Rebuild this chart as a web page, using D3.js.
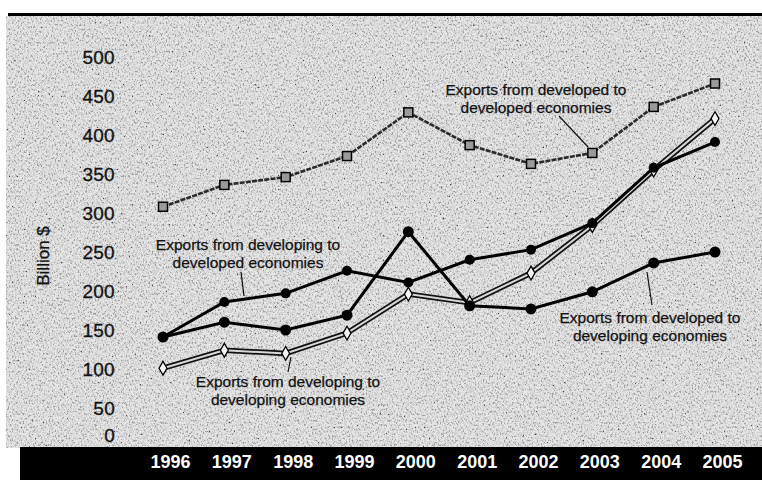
<!DOCTYPE html>
<html>
<head>
<meta charset="utf-8">
<script src="https://cdn.jsdelivr.net/npm/d3@7"></script>
<style>
  html, body { margin: 0; padding: 0; background: #fff; }
  svg { display: block; }
  text { font-family: "Liberation Sans", Arial, Helvetica, sans-serif; }
</style>
</head>
<body>
<svg id="chart" width="762" height="480"></svg>
<script>
// ---- data ----
const years = ["1996","1997","1998","1999","2000","2001","2002","2003","2004","2005"];
const yTicks = [0, 50, 100, 150, 200, 250, 300, 350, 400, 450, 500];
const devToDev      = [308, 336, 346, 373, 429, 387, 363, 377, 436, 466];
const devingToDev   = [141, 186, 197, 226, 211, 240, 253, 287, 358, 391];
const devToDeving   = [141, 160, 150, 169, 276, 181, 177, 199, 236, 250];
const devingToDeving= [101, 124, 120, 146, 196, 185, 223, 284, 355, 421];
const labelDevDev     = ["Exports from developed to", "developed economies"];
const labelDevingDev  = ["Exports from developing to", "developed economies"];
const labelDevDeving  = ["Exports from developed to", "developing economies"];
const labelDevingDeving = ["Exports from developing to", "developing economies"];
const yTitle = "Billion $";

const svg = d3.select("#chart");
const W = 762, H = 480;

// ---- background texture ----
const defs = svg.append("defs");
const f = defs.append("filter").attr("id", "speckle").attr("x", 0).attr("y", 0).attr("width", "100%").attr("height", "100%");
f.append("feTurbulence").attr("type", "fractalNoise").attr("baseFrequency", "0.65 0.45").attr("numOctaves", 3).attr("seed", 7).attr("result", "t");
f.append("feColorMatrix").attr("in", "t").attr("type", "matrix")
  .attr("values", "1 0 0 0 0  1 0 0 0 0  1 0 0 0 0  0 0 0 0 1").attr("result", "g");
const ct = f.append("feComponentTransfer").attr("in", "g");
["R","G","B"].forEach(c => ct.append("feFunc" + c).attr("type", "discrete").attr("tableValues", "0 0.3 0.7 1 1 1"));

svg.append("rect").attr("x", 6).attr("y", 16).attr("width", W - 6).attr("height", 432).attr("fill", "#bcbcbc");
svg.append("rect").attr("x", 6).attr("y", 16).attr("width", W - 6).attr("height", 432)
  .attr("filter", "url(#speckle)").attr("opacity", 0.6);

// top rule
svg.append("rect").attr("x", 8).attr("y", 13).attr("width", W - 8).attr("height", 3).attr("fill", "#000");
// bottom black band
svg.append("rect").attr("x", 20).attr("y", 447).attr("width", W - 20).attr("height", H - 447).attr("fill", "#000");

// ---- scales ----
const x = d3.scalePoint().domain(years).range([163, 715]);
const y = d3.scaleLinear().domain([0, 500]).range([447, 57]);

// ---- axes ----
const yAxis = d3.axisLeft(y).tickValues(yTicks).tickSize(0).tickPadding(0);
const gy = svg.append("g").attr("transform", "translate(115,0)").call(yAxis);
gy.select(".domain").remove();
gy.selectAll("text")
  .attr("fill", "#111").attr("font-size", 19).attr("letter-spacing", "0.3px")
  .attr("stroke", "#111").attr("stroke-width", 0.3)
  .attr("dy", d => d === 0 ? "-0.3em" : "0.36em");

const xAxis = d3.axisBottom(x).tickSize(0).tickPadding(0);
const gx = svg.append("g").attr("transform", "translate(7,451)").call(xAxis);
gx.select(".domain").remove();
gx.selectAll("text").attr("fill", "#fff").attr("font-size", 18).attr("font-weight", "bold").attr("dy", "0.95em");

svg.append("text")
  .attr("transform", "translate(49,256) rotate(-90)")
  .attr("text-anchor", "middle").attr("font-size", 17).attr("fill", "#111")
  .attr("stroke", "#111").attr("stroke-width", 0.3)
  .text(yTitle);

// ---- lines ----
const line = d3.line().x((d, i) => x(years[i])).y(d => y(d));

// developed -> developed (squares)
svg.append("path").datum(devToDev).attr("d", line).attr("fill", "none")
  .attr("stroke", "#2a2a2a").attr("stroke-width", 2.6).attr("stroke-dasharray", "5 1.2");

// developing -> developing (double line, open diamonds)
svg.append("path").datum(devingToDeving).attr("d", line).attr("fill", "none")
  .attr("stroke", "#111").attr("stroke-width", 5.5);
svg.append("path").datum(devingToDeving).attr("d", line).attr("fill", "none")
  .attr("stroke", "#d8d8d8").attr("stroke-width", 2);

// developed -> developing
svg.append("path").datum(devToDeving).attr("d", line).attr("fill", "none")
  .attr("stroke", "#000").attr("stroke-width", 3);
// developing -> developed
svg.append("path").datum(devingToDev).attr("d", line).attr("fill", "none")
  .attr("stroke", "#000").attr("stroke-width", 3);

// markers
svg.append("g").selectAll("rect").data(devToDev).join("rect")
  .attr("x", (d, i) => x(years[i]) - 4.5).attr("y", d => y(d) - 4.5)
  .attr("width", 9).attr("height", 9)
  .attr("fill", "#9a9a9a").attr("stroke", "#000").attr("stroke-width", 1.5);

svg.append("g").selectAll("path").data(devingToDeving).join("path")
  .attr("d", d3.symbol().type(d3.symbolDiamond).size(55))
  .attr("transform", (d, i) => `translate(${x(years[i])},${y(d)})`)
  .attr("fill", "#f4f4f4").attr("stroke", "#000").attr("stroke-width", 1.3);

svg.append("g").selectAll("circle").data(devToDeving).join("circle")
  .attr("cx", (d, i) => x(years[i])).attr("cy", d => y(d)).attr("r", 5.5).attr("fill", "#000");
svg.append("g").selectAll("circle").data(devingToDev).join("circle")
  .attr("cx", (d, i) => x(years[i])).attr("cy", d => y(d)).attr("r", 5).attr("fill", "#000");

// ---- annotations ----
function label(lines, cx, cy) {
  const t = svg.append("text").attr("text-anchor", "middle").attr("font-size", 15.5)
    .attr("fill", "#111").attr("stroke", "#111").attr("stroke-width", 0.25);
  lines.forEach((s, i) => t.append("tspan").attr("x", cx).attr("y", cy + i * 18).text(s));
}
function leader(x1, y1, x2, y2) {
  svg.append("line").attr("x1", x1).attr("y1", y1).attr("x2", x2).attr("y2", y2)
    .attr("stroke", "#111").attr("stroke-width", 1.2);
}
label(labelDevDev, 536, 95);
leader(559, 116, 588, 147);
label(labelDevingDev, 248, 250);
leader(241, 272, 244, 296);
label(labelDevingDeving, 288, 387);
leader(291, 357, 288, 372);
label(labelDevDeving, 650, 323);
leader(647, 272, 652, 305);
</script>
</body>
</html>
